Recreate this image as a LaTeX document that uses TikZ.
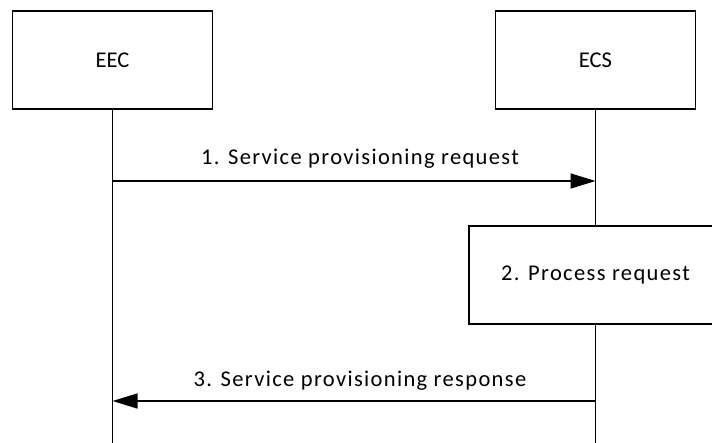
\documentclass[tikz,border=0pt]{standalone}
\usepackage{fontspec}
\setmainfont{Carlito}
\newfontfamily\spacedfont[LetterSpace=6]{Carlito}
\usetikzlibrary{arrows.meta}
\begin{document}
\begin{tikzpicture}[x=1pt,y=-1pt, line width=1.6pt,
  txt/.style={font=\fontsize{22.5}{27}\selectfont},
  stxt/.style={font=\spacedfont\fontsize{22.5}{27}\selectfont},
  actor/.style={draw, txt, minimum width=200pt, minimum height=98pt, inner sep=0pt},
  procbox/.style={draw, stxt, minimum width=253pt, minimum height=98pt, inner sep=0pt},
  msg/.style={-{Triangle[length=25pt,width=15pt]}},
  lbl/.style={stxt, inner sep=0pt}]
\useasboundingbox (0,0) rectangle (712,443);
\clip (0,0) rectangle (712,443);
\node[actor] (eec) at (112.5,60) {EEC};
\node[actor] (ecs) at (595.5,60) {ECS};
\node[procbox] (proc) at (595.5,275) {2. Process request};
\coordinate (eecend) at (eec.south |- 0,450);
\coordinate (ecsend) at (ecs.south |- 0,450);
\draw (eec.south) -- (eecend);
\draw (ecs.south) -- (proc.north);
\draw (proc.south) -- (ecsend);
\coordinate (m1s) at (eec.south |- 0,181);
\coordinate (m1e) at (ecs.south |- 0,181);
\coordinate (m3s) at (ecs.south |- 0,401);
\coordinate (m3e) at (eec.south |- 0,401);
\draw[msg] (m1s) -- (m1e);
\draw[msg] (m3s) -- (m3e);
\node[lbl, anchor=base] (l1) at (360,165) {1. Service provisioning request};
\node[lbl, anchor=base] (l3) at (360,386) {3. Service provisioning response};
\end{tikzpicture}
\end{document}
